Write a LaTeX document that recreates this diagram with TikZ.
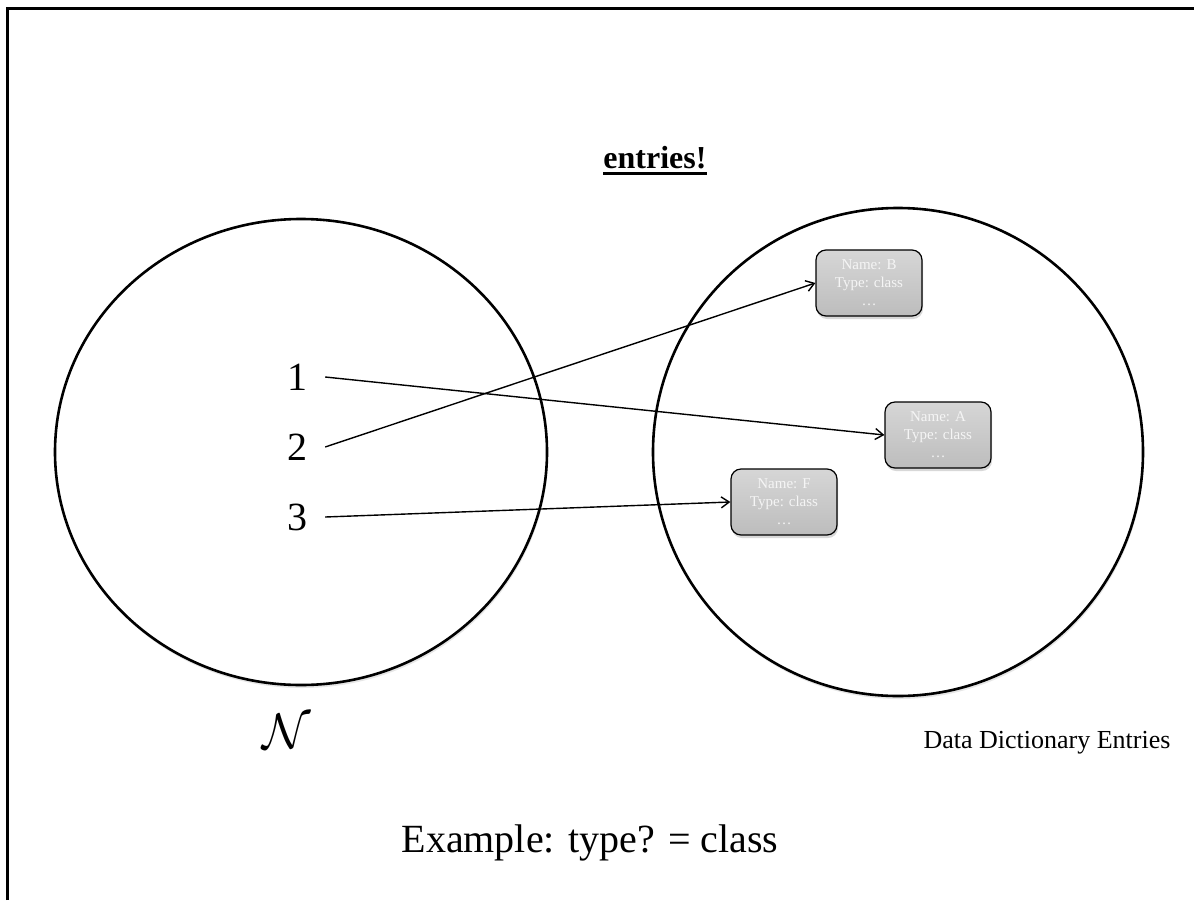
\RequirePackage{fix-cm}
\documentclass[tikz,border=0pt]{standalone}
\usepackage{fontspec}
\setmainfont{Liberation Serif}
\usetikzlibrary{arrows.meta,shadows}
\begin{document}
\begin{tikzpicture}[x=1pt,y=-1pt,
  ring/.style={draw=black,fill=white,line width=2.6pt,drop shadow={shadow xshift=1pt,shadow yshift=-3pt,opacity=0.2}},
  num/.style={font=\fontsize{40}{44}\selectfont,inner xsep=18pt,inner ysep=0pt},
  entry/.style={draw=black,line width=1.2pt,rounded corners=10pt,minimum width=106pt,minimum height=66pt,
    top color=gray!32,bottom color=gray!52,text=white!92!gray,align=center,
    font=\fontsize{15}{18}\selectfont,inner sep=0pt,
    drop shadow={shadow xshift=1pt,shadow yshift=-3pt,opacity=0.3}},
  link/.style={line width=1.4pt,-{Straight Barb[length=8pt,width=11pt,line width=1.4pt]}},
  lbl/.style={font=\fontsize{40}{44}\selectfont,inner sep=0pt}]
\useasboundingbox (0,0) rectangle (1194,900);
\draw[line width=3pt] (7.5,900) -- (7.5,8.5) -- (1194,8.5);
\node[font=\bfseries\fontsize{32}{38}\selectfont,inner sep=0pt,anchor=base] (title) at (655,168) {entries!};
\draw[line width=3pt] ([yshift=-5pt]title.base west) -- ([yshift=-5pt]title.base east);
\draw[ring] (301,452) ellipse [x radius=246, y radius=233];
\draw[ring] (898,452) ellipse [x radius=245, y radius=244];
\node[num] (n1) at (297,377) {1};
\node[num] (n2) at (297,447) {2};
\node[num] (n3) at (297,517) {3};
\node[entry] (eB) at (869,283) {Name: B\\Type: class\\\dots};
\node[entry] (eA) at (938,435) {Name: A\\Type: class\\\dots};
\node[entry] (eF) at (784,502) {Name: F\\Type: class\\\dots};
\draw[link] (n1.east) -- (eA.west);
\draw[link] (n2.east) -- (eB.west);
\draw[link] (n3.east) -- (eF.west);
\node[font=\fontsize{50}{56}\selectfont,inner sep=0pt,anchor=base] (setN) at (287,748) {$\mathcal{N}$};
\node[font=\fontsize{26}{32}\selectfont,inner sep=0pt,anchor=base] (dde) at (1047,748) {Data Dictionary Entries};
\node[lbl] (ex) at (590,843) {Example: type? = class};
\end{tikzpicture}
\end{document}
